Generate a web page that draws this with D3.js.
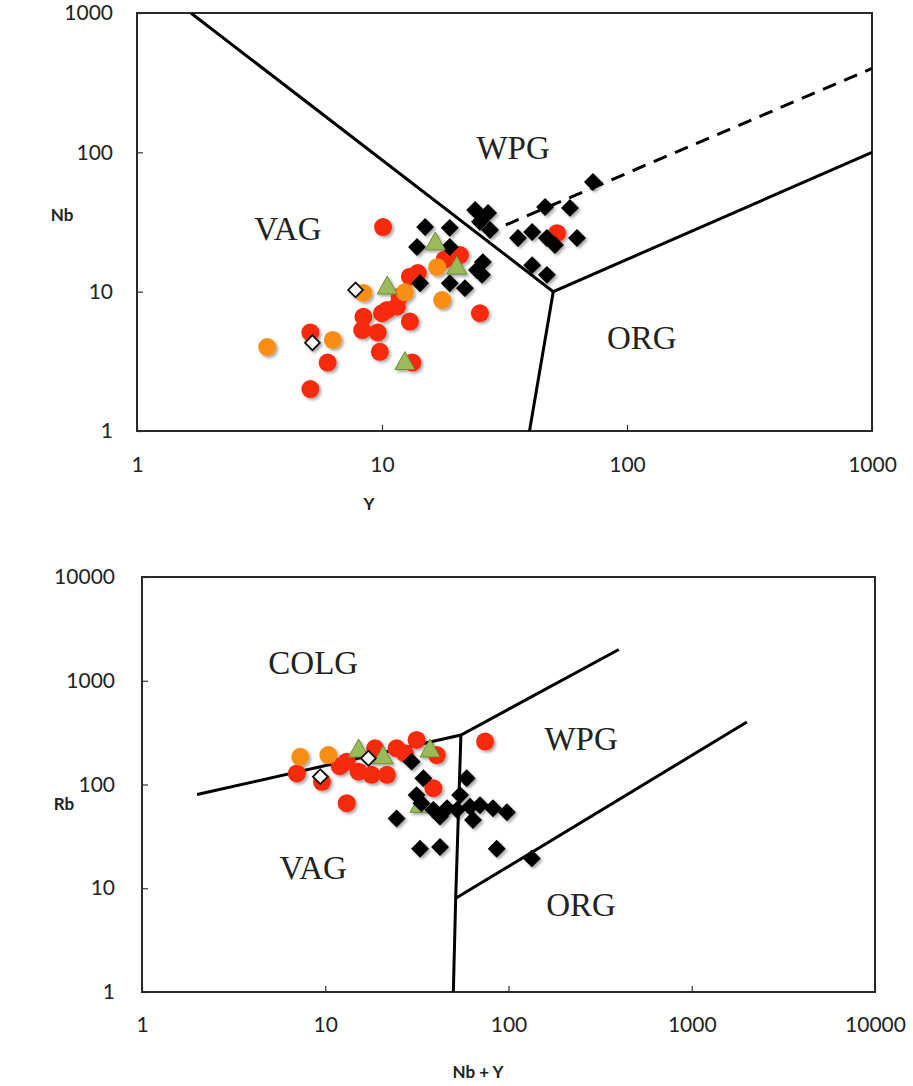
<!DOCTYPE html>
<html>
<head>
<meta charset="utf-8">
<script src="https://cdn.jsdelivr.net/npm/d3@7"></script>
<style>
  body { margin: 0; background: #fff; }
  svg { display: block; }
  .tick text { font-family: Lato, "Open Sans", sans-serif; font-size: 21px; fill: #222; }
  .tick line { stroke: #333; stroke-width: 1.2; }
  .axis-title { font-family: Lato, "Open Sans", sans-serif; font-size: 17px; font-weight: bold; fill: #222; }
  .field { font-family: "Liberation Serif", "DejaVu Serif", serif; font-size: 33px; fill: #222; }
</style>
</head>
<body>
<svg id="chart" width="913" height="1086"></svg>
<script>
// ---- Nb vs Y (top) ----
const nbyRed = [[10.1, 29.1], [20.8, 18.3], [14, 13.6], [8.4, 6.6], [5.1, 5.1], [6.0, 3.1], [5.1, 2.0],
  [13.3, 3.1], [25.1, 7.0], [51.8, 26.3], [10, 7.0], [11.5, 7.8], [13, 6.1], [8.3, 5.3], [9.6, 5.1],
  [9.8, 3.7], [13, 12.8], [11.8, 9.2], [10.5, 7.4], [18, 17]];
const nbyOrange = [[3.4, 4.0], [6.3, 4.5], [8.4, 9.8], [12.4, 9.9], [16.8, 15.0], [17.6, 8.7]];
const nbyBlack = [[72.6, 61.3], [46.3, 40.5], [58.5, 39.9], [24, 38.6], [27.1, 36.7], [25.1, 31.7],
  [27.6, 27.7], [35.9, 24.3], [41, 26.8], [47.1, 24.3], [50.8, 21.6], [62.5, 24.3], [15, 29.1],
  [18.9, 28.7], [13.9, 20.9], [18.9, 20.9], [25.8, 16.3], [25.6, 13.2], [41, 15.5], [47.1, 13.2],
  [14.3, 11.5], [18.9, 11.5], [21.8, 10.6], [24.4, 14.3]];
const nbyGreen = [[10.5, 10.8], [16.5, 22.4], [20.2, 15.0], [12.4, 3.1]];
const nbyWhite = [[7.8, 10.3], [5.2, 4.3]];
const nbyBoundaries = [
  [[1.66, 1000], [50, 10], [1000, 100]],
  [[50, 10], [40, 1]]
];
const nbyDashed = [[32, 30.1], [1000, 400]];
const nbyFields = [["WPG", 34.3, 107.6], ["VAG", 4.13, 28.2], ["ORG", 115, 4.73]];
const nbyTicksX = [1, 10, 100, 1000];
const nbyTicksY = [1, 10, 100, 1000];

// ---- Rb vs Nb+Y (bottom) ----
const rbRed = [[7.0, 128], [9.6, 106], [13.1, 66], [13.1, 166], [15.2, 133], [17.9, 124], [18.7, 223],
  [21.7, 124], [24.5, 223], [27.2, 200], [31.5, 269], [40.6, 192], [38.9, 92], [74.5, 259], [12, 150]];
const rbOrange = [[7.3, 185], [10.4, 192]];
const rbBlack = [[29.6, 166], [34.3, 115], [31.5, 79], [24.5, 47], [32.9, 24], [42.3, 25], [86.2, 24],
  [59.1, 115], [54.4, 79], [38.9, 57], [46.2, 59], [52.4, 57], [61.7, 61], [69.9, 63], [82.3, 59],
  [98, 54], [42.3, 49], [64, 45.5], [134, 19.4], [33.5, 66]];
const rbGreen = [[32.9, 63], [15.2, 215], [20.7, 185], [37.3, 215]];
const rbWhite = [[9.4, 119], [17.2, 179]];
const rbBoundaries = [
  [[2, 80], [55, 300], [400, 2000]],
  [[55, 300], [51.5, 8], [50, 1]],
  [[51.5, 8], [2000, 400]]
];
const rbFields = [["COLG", 8.6, 1517], ["WPG", 249, 275], ["VAG", 8.6, 16], ["ORG", 249, 7.05]];
const rbTicksX = [1, 10, 100, 1000, 10000];
const rbTicksY = [1, 10, 100, 1000, 10000];

const svg = d3.select('#chart');

// soft drop shadow like the spreadsheet markers
svg.append('defs').append('filter')
    .attr('id', 'shadow')
    .attr('x', '-50%').attr('y', '-50%').attr('width', '200%').attr('height', '200%')
  .append('feDropShadow')
    .attr('dx', 2).attr('dy', 2).attr('stdDeviation', 1.5)
    .attr('flood-color', '#000').attr('flood-opacity', 0.35);

function drawPanel(opts) {
    const g = svg.append('g').attr('transform', `translate(${opts.left},${opts.top})`);
    const x = d3.scaleLog().domain(opts.xDomain).range([0, opts.width]);
    const y = d3.scaleLog().domain(opts.yDomain).range([opts.height, 0]);

    // axes, ticks pointing inward
    const xAxis = g.append('g').attr('transform', `translate(0,${opts.height})`)
        .call(d3.axisBottom(x).tickValues(opts.ticksX).tickFormat(d3.format('d'))
            .tickSizeInner(-6).tickSizeOuter(0).tickPadding(opts.xPad));
    xAxis.select('.domain').remove();

    const yAxis = g.append('g')
        .call(d3.axisLeft(y).tickValues(opts.ticksY).tickFormat(d3.format('d'))
            .tickSizeInner(-6).tickSizeOuter(0).tickPadding(opts.yPad));
    yAxis.select('.domain').remove();

    // frame
    g.append('rect')
        .attr('width', opts.width).attr('height', opts.height)
        .style('fill', 'none').style('stroke', '#2a2a2a').style('stroke-width', 2);

    // axis titles
    g.append('text').attr('class', 'axis-title')
        .attr('x', opts.xTitlePos[0]).attr('y', opts.xTitlePos[1])
        .attr('text-anchor', 'middle').text(opts.xTitle);
    g.append('text').attr('class', 'axis-title')
        .attr('x', opts.yTitlePos[0]).attr('y', opts.yTitlePos[1])
        .attr('text-anchor', 'middle').text(opts.yTitle);

    // discrimination boundaries
    const line = d3.line().x(d => x(d[0])).y(d => y(d[1]));
    const clip = 'clip-' + opts.id;
    g.append('clipPath').attr('id', clip).append('rect')
        .attr('width', opts.width).attr('height', opts.height);
    const lines = g.append('g').attr('clip-path', `url(#${clip})`);
    lines.selectAll('path.bound')
        .data(opts.boundaries)
        .enter().append('path')
        .attr('class', 'bound')
        .attr('d', line)
        .style('fill', 'none').style('stroke', '#000').style('stroke-width', 3)
        .style('stroke-linejoin', 'miter');
    if (opts.dashed) {
        lines.append('path')
            .attr('d', line(opts.dashed))
            .style('fill', 'none').style('stroke', '#000').style('stroke-width', 3)
            .style('stroke-dasharray', '14,9');
    }

    // field labels
    g.selectAll('text.field')
        .data(opts.fields)
        .enter().append('text')
        .attr('class', 'field')
        .attr('x', d => x(d[1])).attr('y', d => y(d[2]))
        .attr('dy', '0.35em')
        .attr('text-anchor', 'middle')
        .text(d => d[0]);

    // markers
    const pts = g.append('g').attr('filter', 'url(#shadow)');
    const circles = (data, color) => pts.selectAll(null)
        .data(data).enter().append('circle')
        .attr('cx', d => x(d[0])).attr('cy', d => y(d[1]))
        .attr('r', 9).style('fill', color);
    const blacks = () => pts.selectAll(null)
        .data(opts.black).enter().append('path')
        .attr('d', d3.symbol(d3.symbolSquare, 160))
        .attr('transform', d => `translate(${x(d[0])},${y(d[1])}) rotate(45)`)
        .style('fill', '#000');
    const greens = () => pts.selectAll(null)
        .data(opts.green).enter().append('path')
        .attr('d', 'M0,-11 L10,7 L-10,7 Z')
        .attr('transform', d => `translate(${x(d[0])},${y(d[1])})`)
        .style('fill', '#9bbb59').style('stroke', '#6f8a3c').style('stroke-width', 1);

    circles(opts.red, '#f72b0c');
    circles(opts.orange, '#f98e17');
    if (opts.greenUnder) { greens(); blacks(); } else { blacks(); greens(); }
    pts.selectAll(null)
        .data(opts.white).enter().append('path')
        .attr('d', d3.symbol(d3.symbolSquare, 110))
        .attr('transform', d => `translate(${x(d[0])},${y(d[1])}) rotate(45)`)
        .style('fill', '#fff').style('stroke', '#111').style('stroke-width', 1.8);
}

drawPanel({
    id: 'nby', left: 137, top: 13, width: 735, height: 418,
    xDomain: [1, 1000], yDomain: [1, 1000],
    ticksX: nbyTicksX, ticksY: nbyTicksY, xPad: 26, yPad: 24,
    xTitle: 'Y', xTitlePos: [232, 497],
    yTitle: 'Nb', yTitlePos: [-75, 208],
    boundaries: nbyBoundaries, dashed: nbyDashed, fields: nbyFields, greenUnder: false,
    red: nbyRed, orange: nbyOrange, black: nbyBlack, green: nbyGreen, white: nbyWhite
});

drawPanel({
    id: 'rb', left: 142, top: 577, width: 733, height: 415,
    xDomain: [1, 10000], yDomain: [1, 10000],
    ticksX: rbTicksX, ticksY: rbTicksY, xPad: 25, yPad: 27,
    xTitle: 'Nb + Y', xTitlePos: [336, 501],
    yTitle: 'Rb', yTitlePos: [-78, 233],
    boundaries: rbBoundaries, dashed: null, fields: rbFields, greenUnder: true,
    red: rbRed, orange: rbOrange, black: rbBlack, green: rbGreen, white: rbWhite
});
</script>
</body>
</html>
